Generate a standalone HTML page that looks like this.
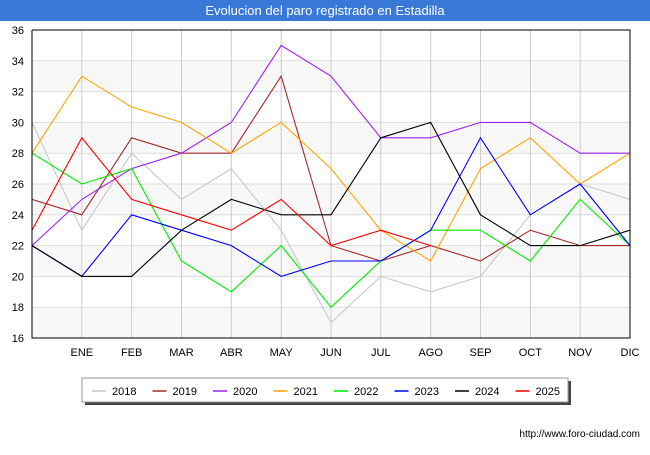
<!DOCTYPE html>
<html><head><meta charset="utf-8"><style>
body{margin:0;width:650px;height:450px;background:#fff;font-family:"Liberation Sans",sans-serif;overflow:hidden}
</style></head><body>
<svg width="650" height="450">
<rect x="0" y="0" width="650" height="21" fill="#3a78d8"/>
<text x="325" y="15" text-anchor="middle" fill="#fff" font-size="13">Evolucion del paro registrado en Estadilla</text>
<g id="grid"></g><g id="lines"></g><g id="axes"></g>
<g>
<rect x="85" y="381" width="486" height="24" fill="#444"/>
<rect x="82" y="378" width="486" height="24" fill="#fff" stroke="#999"/>
<g id="legend"></g></g>
<text x="640" y="437" text-anchor="end" font-size="10" fill="#000">http://www.foro-ciudad.com</text>
</svg>
<script>
const months=["","ENE","FEB","MAR","ABR","MAY","JUN","JUL","AGO","SEP","OCT","NOV","DIC"];
const yTicks=[16,18,20,22,24,26,28,30,32,34,36];
const years=["2018","2019","2020","2021","2022","2023","2024","2025"];
const colors=["#c8c8c8","#a52a2a","#a020f0","#ffa500","#00ee00","#0000ff","#000000","#ff0000"];
const s2018=[30,23,28,25,27,23,17,20,19,20,24,26,25];
const s2019=[25,24,29,28,28,33,22,21,22,21,23,22,22];
const s2020=[22,25,27,28,30,35,33,29,29,30,30,28,28];
const s2021=[28,33,31,30,28,30,27,23,21,27,29,26,28];
const s2022=[28,26,27,21,19,22,18,21,23,23,21,25,22];
const s2023=[22,20,24,23,22,20,21,21,23,29,24,26,22];
const s2024=[22,20,20,23,25,24,24,29,30,24,22,22,23];
const s2025=[23,29,25,24,23,25,22,23,22];
const series=[s2018,s2019,s2020,s2021,s2022,s2023,s2024,s2025];
const X0=32,X1=630,Y0=30,Y1=338;
const xs=i=>X0+i*(X1-X0)/12, ys=v=>Y1-(v-16)*(Y1-Y0)/20;
const NS="http://www.w3.org/2000/svg";
function mk(t,a,p){const e=document.createElementNS(NS,t);for(const k in a)e.setAttribute(k,a[k]);p.appendChild(e);return e;}
const g=document.getElementById('grid');
for(let i=0;i<yTicks.length-1;i+=2){const r=mk('rect',{x:X0,y:ys(yTicks[i+1]),width:X1-X0,height:ys(yTicks[i])-ys(yTicks[i+1]),fill:'#f8f8f8'},g);

}
yTicks.forEach(v=>{const l=mk('line',{x1:X0,x2:X1,y1:ys(v),y2:ys(v),stroke:'#ddd'},g);


const t=mk('text',{x:24,y:ys(v)+4,'text-anchor':'end','font-size':'11'},g);t.textContent=v;

});
months.forEach((m,i)=>{if(i>0){const l=mk('line',{x1:xs(i),x2:xs(i),y1:Y0,y2:Y1,stroke:'#ccc'},g);

}
const t=mk('text',{x:xs(i),y:356,'text-anchor':'middle','font-size':'11'},g);t.textContent=m;

});
const L=document.getElementById('lines');
series.forEach((s,k)=>{const p=mk('polyline',{points:s.map((v,i)=>xs(i)+','+ys(v)).join(' '),fill:'none',stroke:colors[k],'stroke-width':1.1},L);

});
const A=document.getElementById('axes');
const ax=mk('path',{d:`M${X0} ${Y0}V${Y1}H${X1}V${Y0}H${X0}`,fill:'none',stroke:'#000'},A);


const LG=document.getElementById('legend');
years.forEach((y,k)=>{const x=92+k*60.5;
const l=mk('line',{x1:x,x2:x+14,y1:391,y2:391,stroke:colors[k],'stroke-width':1.5},LG);


const t=mk('text',{x:x+20,y:395,'font-size':'11'},LG);t.textContent=y;

});
</script>
</body></html>
